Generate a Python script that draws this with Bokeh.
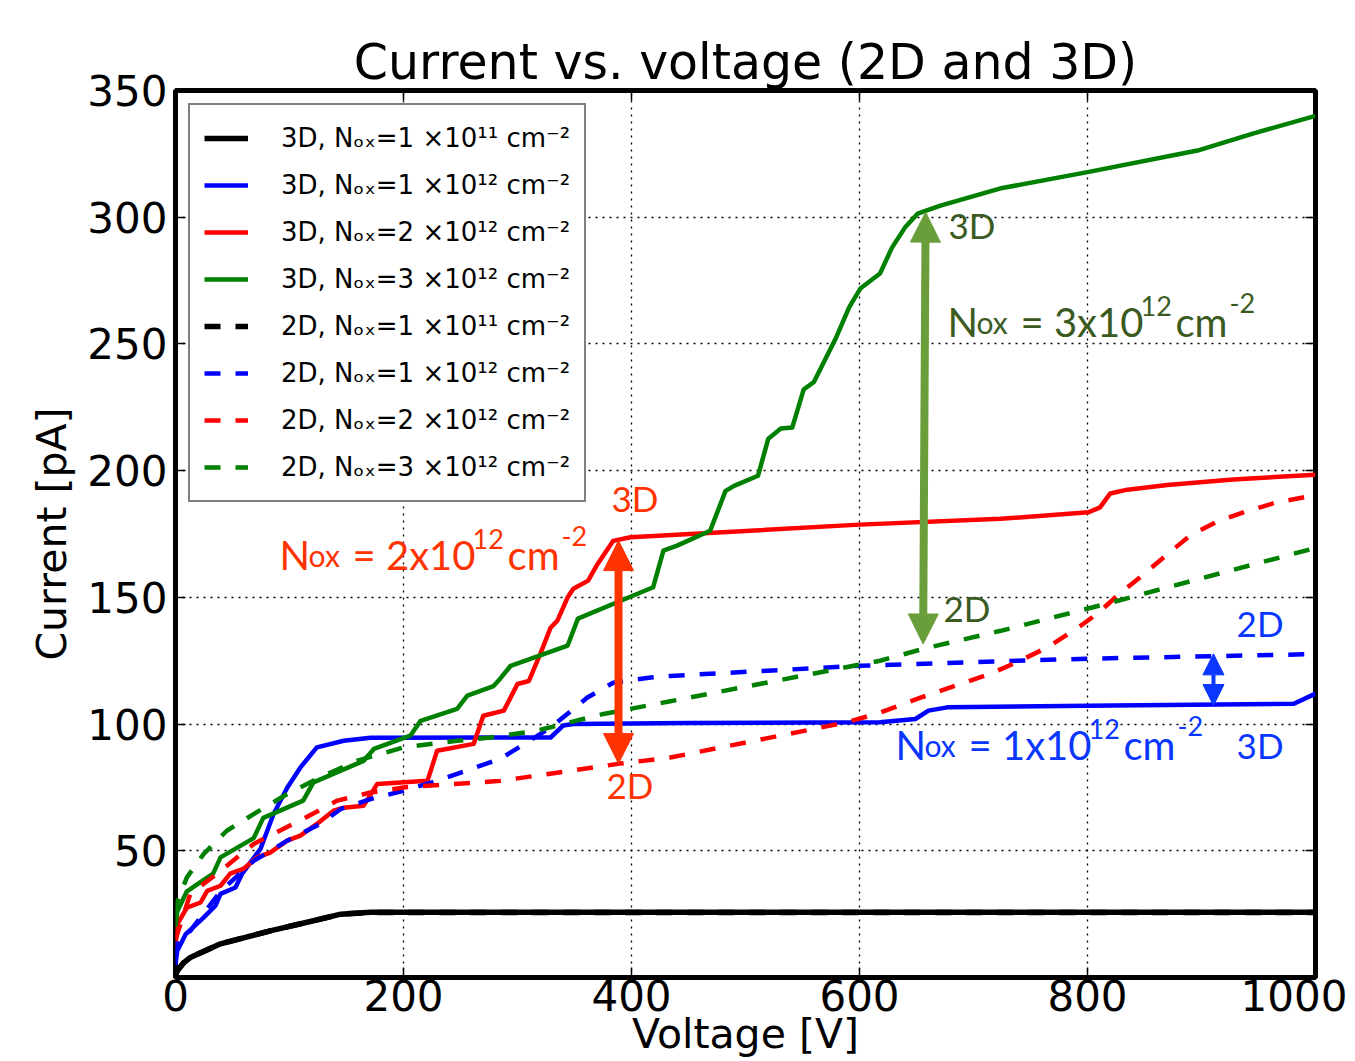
from bokeh.plotting import figure
from bokeh.models import (ColumnDataSource, Arrow, NormalHead, FixedTicker, LinearAxis)
from bokeh.core.properties import value
from bokeh.embed import file_html
from bokeh.resources import INLINE

# ---------------- data ----------------
X_TICKS = [0, 200, 400, 600, 800, 1000]
Y_TICKS = [50, 100, 150, 200, 250, 300, 350]

# 3D, Nox = 1e11
BLK3D_V = [0, 1.5, 7.3, 13, 39.5, 83, 121, 145, 171, 250, 400, 600, 800, 1000]
BLK3D_I = [1.0, 2.6, 5.9, 7.9, 13.3, 18.4, 22.4, 25.0, 25.7, 25.7, 25.7, 25.7, 25.7, 25.7]
# 2D, Nox = 1e11 (lies on top of the 3D curve)
BLK2D_V = [0, 1.5, 7.3, 13, 39.5, 83, 121, 145, 171, 250, 400, 600, 800, 1000]
BLK2D_I = [1.0, 2.6, 5.9, 7.9, 13.3, 18.4, 22.4, 25.0, 25.6, 25.6, 25.6, 25.6, 25.6, 25.6]

# 3D, Nox = 1e12
BLU3D_V = [0, 1.5, 8.8, 24.6, 35, 39.5, 52.6, 58.5, 74.6, 86, 98, 109.6, 124, 147.6, 171,
           285, 329, 340, 349, 450, 618, 649, 660.5, 677, 800, 981, 1000]
BLU3D_I = [5, 10.5, 17, 23.6, 28.3, 33, 35.5, 41, 50.8, 64.5, 74.9, 82.9, 90.8, 93.4, 94.6,
           94.7, 94.7, 99.4, 100, 100.4, 100.7, 102, 105.3, 106.6, 107.2, 108, 112]
# 2D, Nox = 1e12
BLU2D_V = [0, 1.5, 13, 39.5, 68.6, 98, 127, 145, 171, 200, 229.5, 285, 296.5, 329, 361,
           384, 417, 434, 600, 738, 801, 1000]
BLU2D_I = [8, 14.5, 18.4, 34, 46, 54, 60.6, 66.5, 70.4, 73.7, 77.6, 86.3, 89.5, 98.6, 110.4,
           116.3, 118.4, 119, 123, 125, 125.8, 127.6]

# 3D, Nox = 2e12
RED3D_V = [0, 1.5, 10, 22, 27.8, 39.5, 48, 60, 71.6, 83, 98, 109.6, 124, 138.6, 147.6, 165,
           177, 221, 229.5, 261.6, 270, 288, 300, 310, 320, 329, 335, 344, 349, 362, 370,
           384, 399, 600, 724, 801, 811, 820, 835, 870, 928, 1000]
RED3D_I = [12, 21, 27.6, 29.6, 34.2, 36.2, 41, 43, 47.4, 49.3, 54, 56, 60.6, 65.8, 67, 67.8,
           76.4, 77.6, 89.5, 92.2, 103.3, 105.3, 115.8, 117, 127.7, 138, 140.8, 150, 153.4,
           156.6, 163, 172.3, 173.7, 178.7, 181, 183.6, 185.5, 191, 192.5, 194.3, 196.5, 198.4]
# 2D, Nox = 2e12
RED2D_V = [0, 13, 36.6, 68.6, 112, 142, 171, 200, 285, 390, 434, 589, 618, 653.5, 715, 738,
           765, 794, 808.5, 829, 849, 870, 890, 914, 940, 966, 1000]
RED2D_I = [15, 33, 41, 52.7, 62.6, 69.8, 73, 75, 77.6, 84.4, 86.8, 100.7, 104.5, 110.4, 119.9,
           124.4, 130.3, 138.8, 143.5, 151.8, 159, 167, 174.4, 180, 184, 187.5, 190.3]

# 3D, Nox = 3e12
GRN3D_V = [0, 1.5, 10, 33, 39.5, 68.6, 77, 112, 121, 165, 174, 206, 215, 247, 256, 279, 285,
           294, 344, 353, 419, 428, 440, 469, 482.5, 490, 511, 520, 531, 541, 551, 560, 579,
           591, 601, 618, 628.5, 640, 651, 671, 723, 800, 896.5, 945, 1000]
GRN3D_I = [20, 26, 34, 41, 47.4, 55, 63, 69.8, 77, 85.5, 90.2, 95.4, 101.3, 106, 111.2, 115,
           118, 123, 131, 141.6, 154, 168.4, 170.4, 176.3, 192, 194, 198, 212.6, 216.6, 217,
           232, 235, 252, 264.5, 272, 277.8, 288, 296, 301.4, 304.6, 311.3, 317.8, 326.3,
           333, 340]
# 2D, Nox = 3e12
GRN2D_V = [0, 1.5, 10, 24.6, 45, 68.6, 98, 127, 159, 200, 247, 276, 317, 375.5, 434, 618,
           656, 724, 817, 899, 1000]
GRN2D_I = [25, 30, 39.5, 48.7, 57.9, 64.5, 72.4, 79, 85.5, 90.8, 93.4, 94.7, 97.4, 104, 109,
           125, 129.7, 136.8, 147.5, 157.4, 169.5]

SERIES = [
    ("3D, Nₒₓ=1 ×10¹¹ cm⁻²", BLK3D_V, BLK3D_I, "#000000", "solid", 5.5),
    ("3D, Nₒₓ=1 ×10¹² cm⁻²", BLU3D_V, BLU3D_I, "#0000ff", "solid", 4.5),
    ("3D, Nₒₓ=2 ×10¹² cm⁻²", RED3D_V, RED3D_I, "#ff0000", "solid", 4.5),
    ("3D, Nₒₓ=3 ×10¹² cm⁻²", GRN3D_V, GRN3D_I, "#008000", "solid", 4.5),
    ("2D, Nₒₓ=1 ×10¹¹ cm⁻²", BLK2D_V, BLK2D_I, "#000000", "16 15", 5.5),
    ("2D, Nₒₓ=1 ×10¹² cm⁻²", BLU2D_V, BLU2D_I, "#0000ff", "16 15", 4.5),
    ("2D, Nₒₓ=2 ×10¹² cm⁻²", RED2D_V, RED2D_I, "#ff0000", "16 15", 4.5),
    ("2D, Nₒₓ=3 ×10¹² cm⁻²", GRN2D_V, GRN2D_I, "#008000", "16 15", 4.5),
]

# Arrows: (V at top, I at top, V at bottom, I at bottom)
ARROW_V_TOP = [388.6, 658.0, 910.5]
ARROW_I_TOP = [172.4, 302.0, 127.7]
ARROW_V_BOT = [388.6, 655.8, 910.5]
ARROW_I_BOT = [84.4, 131.6, 107.3]

# Annotation labels
RED_C, GRN_TXT, GRN_ARW, BLU_C = "#ff3300", "#3b5a1f", "#6a9e3a", "#0a37ff"
TAG_TEXT = ["3D", "2D", "3D", "2D", "2D", "3D"]
TAG_V = [382.5, 378.0, 678.0, 673.6, 930.8, 930.8]
TAG_I = [189.1, 75.9, 296.8, 145.7, 139.8, 91.6]
TAG_COLOR = [RED_C, RED_C, GRN_TXT, GRN_TXT, BLU_C, BLU_C]

FORM_DIGIT = ["2", "3", "1"]
FORM_V = [93.9, 679.8, 634.2]
FORM_I = [166.6, 258.6, 91.6]
FORM_COLOR = [RED_C, GRN_TXT, BLU_C]

# ---------------- figure ----------------
p = figure(width=1347, height=1061, x_range=(0, 1000), y_range=(0, 350),
           output_backend="svg", toolbar_location=None,
           title="Current vs. voltage (2D and 3D)",
           min_border_left=175, min_border_right=32, min_border_top=90,
           min_border_bottom=84, background_fill_color="white",
           border_fill_color="white")

p.title.align = "center"
p.title.text_font = "DejaVu Sans"
p.title.text_font_size = "49px"
p.title.text_font_style = "normal"
p.title.text_color = "black"
p.title.standoff = 0

p.outline_line_color = "black"
p.outline_line_width = 5

for ax in p.xaxis:
    ax.ticker = FixedTicker(ticks=X_TICKS)
for ax in p.yaxis:
    ax.ticker = FixedTicker(ticks=Y_TICKS)

for ax in list(p.xaxis) + list(p.yaxis):
    ax.axis_line_color = None
    ax.major_tick_in = 10
    ax.major_tick_out = 0
    ax.major_tick_line_width = 1.5
    ax.minor_tick_line_color = None
    ax.major_label_text_font = "DejaVu Sans"
    ax.major_label_text_font_size = "42px"
    ax.major_label_text_color = "black"
    ax.axis_label_text_font = "DejaVu Sans"
    ax.axis_label_text_font_size = "41px"
    ax.axis_label_text_font_style = "normal"
    ax.axis_label_text_color = "black"

p.xaxis.major_label_standoff = 2
p.xaxis.axis_label = "Voltage [V]"
p.xaxis.axis_label_standoff = -4
p.yaxis.major_label_standoff = 8
p.yaxis.axis_label = "Current [pA]"
p.yaxis.axis_label_standoff = 8

# ticks on top and right
top_ax = LinearAxis(ticker=FixedTicker(ticks=X_TICKS), axis_line_color=None,
                    major_tick_in=10, major_tick_out=0, major_tick_line_width=1.5,
                    minor_tick_line_color=None, major_label_text_font_size="1px",
                    major_label_overrides={t: "" for t in X_TICKS}, major_label_standoff=0)
right_ax = LinearAxis(ticker=FixedTicker(ticks=Y_TICKS), axis_line_color=None,
                      major_tick_in=10, major_tick_out=0, major_tick_line_width=1.5,
                      minor_tick_line_color=None, major_label_text_font_size="1px",
                      major_label_overrides={t: "" for t in Y_TICKS}, major_label_standoff=0)
p.add_layout(top_ax, "above")
p.add_layout(right_ax, "right")

p.xgrid.ticker = FixedTicker(ticks=X_TICKS)
p.ygrid.ticker = FixedTicker(ticks=Y_TICKS)
for g in (p.xgrid, p.ygrid):
    g.grid_line_color = "black"
    g.grid_line_dash = "2 5"
    g.grid_line_width = 1.3

for label, xs, ys, col, dash, lw in SERIES:
    p.line(xs, ys, line_color=col, line_width=lw, line_dash=dash, line_join="round",
           legend_label=label)

leg = p.legend[0]
leg.location = "top_left"
leg.margin = 13
leg.padding = 14
leg.spacing = 9
leg.label_height = 38
leg.glyph_width = 44
leg.glyph_height = 20
leg.label_standoff = 33
leg.label_text_font = "DejaVu Sans"
leg.label_text_font_size = "26px"
leg.label_text_color = "black"
leg.border_line_color = "black"
leg.border_line_width = 2
leg.background_fill_color = "white"
leg.background_fill_alpha = 1.0

# arrows
ARROW_COLORS = [RED_C, GRN_ARW, BLU_C]
ARROW_WIDTHS = [8, 8, 4]
ARROW_HEADS = [30, 30, 21]
for vt, it, vb, ib, col, lw, hs in zip(ARROW_V_TOP, ARROW_I_TOP, ARROW_V_BOT, ARROW_I_BOT,
                                       ARROW_COLORS, ARROW_WIDTHS, ARROW_HEADS):
    p.add_layout(Arrow(x_start=vb, y_start=ib, x_end=vt, y_end=it,
                       line_color=col, line_width=lw,
                       start=NormalHead(size=hs, fill_color=col, line_color=col, line_width=1),
                       end=NormalHead(size=hs, fill_color=col, line_color=col, line_width=1)))

# simple "3D"/"2D" tags
tag_src = ColumnDataSource(dict(x=TAG_V, y=TAG_I, text=TAG_TEXT, color=TAG_COLOR))
p.text(x="x", y="y", text="text", text_color="color", source=tag_src,
       text_font=value("Lato"), text_font_size="35px", text_align="left",
       text_baseline="alphabetic")

# "Nox = Nx10^12 cm^-2" formulas built from pieces (px offsets from the N)
def formula_pieces(digit):
    return [("N", -3, 0, 40), ("ox", 26, 0, 30), (f"= {digit}x10", 70, 0, 40),
            ("12", 190, 16, 27), ("cm", 225, 0, 40), ("-2", 279, 19, 27)]

fx, fy, ft, fdx, fdy, fs, fc = [], [], [], [], [], [], []
for d, v, i, c in zip(FORM_DIGIT, FORM_V, FORM_I, FORM_COLOR):
    for t, dx, up, sz in formula_pieces(d):
        fx.append(v); fy.append(i); ft.append(t); fdx.append(dx); fdy.append(-up)
        fs.append(f"{sz}px"); fc.append(c)
form_src = ColumnDataSource(dict(x=fx, y=fy, text=ft, dx=fdx, dy=fdy, size=fs, color=fc))
p.text(x="x", y="y", text="text", x_offset="dx", y_offset="dy", text_font_size="size",
       text_color="color", source=form_src, text_font=value("Lato"), text_align="left",
       text_baseline="alphabetic")

open("out.html", "w").write(file_html(p, INLINE))
